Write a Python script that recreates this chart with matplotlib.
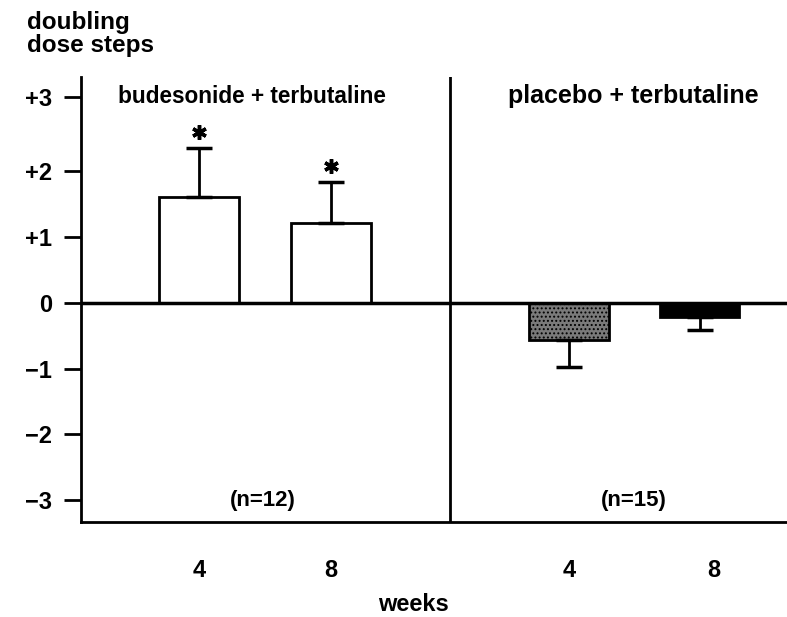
import numpy as np
import matplotlib
matplotlib.use("Agg")
import matplotlib.pyplot as plt

plt.rcParams['font.family'] = ['Liberation Sans', 'DejaVu Sans']
plt.rcParams['font.weight'] = 'bold'
plt.rcParams['hatch.linewidth'] = 0.9

# data
weeks = ["4", "8", "4", "8"]
positions = [0.894, 1.894, 3.697, 4.686]
means = [1.61, 1.21, -0.57, -0.22]
sem = [0.74, 0.63, 0.41, 0.2]
panels = ["budesonide + terbutaline", "placebo + terbutaline"]
n_labels = ["(n=12)", "(n=15)"]
divider = 2.795
tick_pos = [0.894, 1.894, 3.697, 4.79]

fig = plt.figure(figsize=(7.87, 6.17), dpi=100)
ax = fig.add_axes([0.1029, 0.154, 0.8971, 0.7212])

faces = ["white", "white", "#7a7a7a", "black"]
hatches = [None, None, "....", None]
for x, m, s, fc, h in zip(positions, means, sem, faces, hatches):
    ax.bar(x, m, width=0.6, color=fc, edgecolor="black", linewidth=2,
           hatch=h, zorder=2)
    # one-sided error bars
    lo, hi = (0, s) if m > 0 else (s, 0)
    ax.errorbar(x, m, yerr=[[lo], [hi]], fmt="none", ecolor="black",
                elinewidth=2, capsize=9.5, capthick=2.5, zorder=3)

# significance stars
for x, m, s in zip(positions[:2], means[:2], sem[:2]):
    ax.plot(x, m + s + 0.24, marker=(6, 2, 0), markersize=10.5, mew=2.5,
            color="black", zorder=5)

ax.axhline(0, color="black", linewidth=2.5, zorder=4)
ax.axvline(divider, color="black", linewidth=2, zorder=4)

ax.set_xlim(0, 5.348)
ax.set_ylim(-3.33, 3.43)
ax.set_yticks([3.12, 2, 1, 0, -1, -2, -3])
ax.set_yticklabels(["+3", "+2", "+1", "0", "\u22121", "\u22122", "\u22123"])
ax.set_xticks(tick_pos)
ax.set_xticklabels(weeks)
ax.tick_params(axis="y", length=12, width=2, labelsize=17, pad=9)
ax.tick_params(axis="x", length=0, labelsize=17, pad=27)

for sp in ["top", "right"]:
    ax.spines[sp].set_visible(False)
for sp in ["left", "bottom"]:
    ax.spines[sp].set_linewidth(2)

ax.text(1.292, 3.04, panels[0], ha="center", va="baseline", fontsize=16.3)
ax.text(4.182, 3.04, panels[1], ha="center", va="baseline", fontsize=18)
ax.text(1.379, -3.0, n_labels[0], ha="center", va="center", fontsize=16)
ax.text(4.189, -3.0, n_labels[1], ha="center", va="center", fontsize=16)

fig.text(0.525, 0.01, "weeks", ha="center", va="baseline", fontsize=17)
fig.text(0.034, 1 - 11 / 617, "doubling\ndose steps", ha="left", va="top",
         fontsize=17.5, linespacing=1.0)

fig.savefig("out.png", dpi=100)
